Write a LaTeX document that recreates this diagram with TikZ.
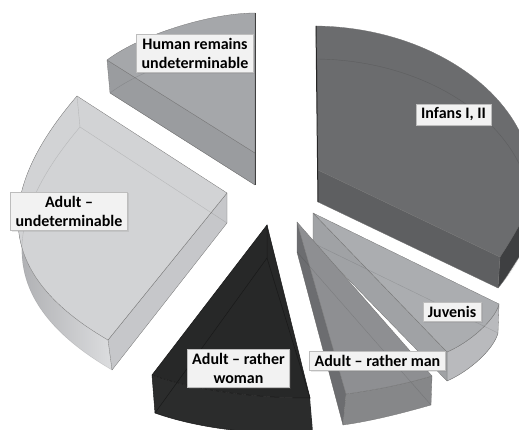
\documentclass[tikz,border=0pt]{standalone}
\usepackage{fontspec}
\setmainfont{Carlito}
\usetikzlibrary{shadows}
\definecolor{boxfill}{HTML}{F2F2F2}
\definecolor{boxline}{HTML}{BDBDBD}
\definecolor{inftop}{HTML}{6B6C6E}
\definecolor{infside}{HTML}{5E5F61}
\definecolor{infrim}{HTML}{3E3F41}
\definecolor{humtop}{HTML}{A5A7AA}
\definecolor{humside}{HTML}{9A9C9F}
\definecolor{undtop}{HTML}{D2D3D5}
\definecolor{undside}{HTML}{C6C7CA}
\definecolor{undrimdark}{HTML}{A2A3A6}
\definecolor{undrimlight}{HTML}{DCDDDF}
\definecolor{womtop}{HTML}{272828}
\definecolor{womrim}{HTML}{2B2C2C}
\definecolor{juvtop}{HTML}{ABADB0}
\definecolor{juvside}{HTML}{A0A2A5}
\definecolor{juvrim}{HTML}{B9BABD}
\definecolor{mantop}{HTML}{8E8F92}
\definecolor{manside}{HTML}{6C6D70}
\definecolor{manrim}{HTML}{868789}
\tikzset{
    lbox/.style = {rectangle, draw=boxline, fill=boxfill, line width=0.6pt, inner xsep=5pt, inner ysep=4pt, align=center, font=\fontsize{16}{19}\selectfont\bfseries, drop shadow={opacity=0.18, shadow xshift=1.5pt, shadow yshift=-1.5pt}},
    face/.style = {draw=black!55, line width=0.3pt, line join=round},
    faint/.style = {draw=black, draw opacity=0.13, line width=0.4pt},
    darkline/.style = {draw=black!90, line width=0.5pt}
}
\begin{document}
\begin{tikzpicture}[x=1pt, y=-1pt]
\useasboundingbox (0,0) rectangle (519,430);
\clip (0,0) rectangle (519,430);

\coordinate (hum-r) at (255,13);
\coordinate (hum-a) at (255,153);
\coordinate (hum-l) at (107,60);
\coordinate (hum-rb) at (255,46);
\coordinate (hum-ab) at (255,185);
\coordinate (hum-lb) at (110,93);
\fill [humside, face] (hum-l) -- (hum-a) -- (hum-ab) -- (hum-lb) -- cycle;
\fill [humtop, face] (hum-a) -- (hum-r) .. controls (210,13) and (140,35) .. (hum-l) -- cycle;
\path [faint] (hum-ab) -- (hum-rb) .. controls (210,46) and (143,68) .. (hum-lb) -- cycle;
\draw [black!75, line width=0.8pt] (hum-r) -- (hum-ab);

\coordinate (inf-u) at (316,26);
\coordinate (inf-a) at (318,170);
\coordinate (inf-l) at (500,257);
\coordinate (inf-e) at (521,222);
\coordinate (inf-ub) at (317,59);
\coordinate (inf-ab) at (318,202);
\coordinate (inf-lb) at (498,288);
\coordinate (inf-eb) at (521,254);
\fill [infside, face] (inf-a) -- (inf-l) -- (inf-lb) -- (inf-ab) -- cycle;
\fill [inftop, face] (inf-a) -- (inf-u) .. controls (475,28) and (590,155) .. (inf-l) -- cycle;
\fill [infrim, face] (inf-l) .. controls (506,248) and (514,235) .. (inf-e) -- (inf-eb) .. controls (512,268) and (505,280) .. (inf-lb) -- cycle;
\path [faint] (inf-ab) -- (inf-ub) .. controls (476,61) and (589,187) .. (inf-lb);
\draw [black!85, line width=1pt] (inf-u) -- (inf-ab);

\coordinate (und-t) at (77,96);
\coordinate (und-a) at (227,193);
\coordinate (und-l) at (108,340);
\coordinate (und-tb) at (80,127);
\coordinate (und-ab) at (227,223);
\coordinate (und-lb) at (112,370);
\shade [left color=undrimdark, right color=undrimlight] (und-t) .. controls (-8,195) and (-4,275) .. (und-l) -- (und-lb) .. controls (0,305) and (-4,226) .. (und-tb) -- cycle;
\fill [undside, face] (und-a) -- (und-l) -- (und-lb) -- (und-ab) -- cycle;
\fill [undtop, face] (und-a) -- (und-t) .. controls (-8,195) and (-4,275) .. (und-l) -- cycle;
\path [faint] (und-ab) -- (und-tb) .. controls (-4,226) and (0,305) .. (und-lb);
\path [faint] (und-t) -- (und-tb);

\coordinate (juv-a) at (313,213);
\coordinate (juv-u) at (499,304);
\coordinate (juv-l) at (447,352);
\coordinate (juv-ab) at (313,243);
\coordinate (juv-ub) at (498,333);
\coordinate (juv-lb) at (447,381);
\fill [juvrim, face] (juv-u) .. controls (495,320) and (470,342) .. (juv-l) -- (juv-lb) .. controls (470,371) and (494,349) .. (juv-ub) -- cycle;
\fill [juvside, face] (juv-a) -- (juv-l) -- (juv-lb) -- (juv-ab) -- cycle;
\fill [juvtop, face] (juv-a) -- (juv-u) .. controls (495,320) and (470,342) .. (juv-l) -- cycle;
\path [faint] (juv-ab) -- (juv-ub) .. controls (494,349) and (470,371) .. (juv-lb);

\coordinate (man-a) at (297,222);
\coordinate (man-l) at (346,394);
\coordinate (man-r) at (432,376);
\coordinate (man-ab) at (297,252);
\coordinate (man-lb) at (343,425);
\coordinate (man-rb) at (431,405);
\fill [manside, face] (man-a) -- (man-l) -- (man-lb) -- (man-ab) -- cycle;
\fill [manrim, face] (man-l) .. controls (375,390) and (405,384) .. (man-r) -- (man-rb) .. controls (403,413) and (372,421) .. (man-lb) -- cycle;
\fill [mantop, face] (man-a) -- (man-l) .. controls (375,390) and (405,384) .. (man-r) -- cycle;
\path [faint] (man-ab) -- (man-rb);
\path [faint] (man-ab) -- (man-lb);

\coordinate (wom-a) at (267,225);
\coordinate (wom-l) at (152,375);
\coordinate (wom-r) at (310,398);
\coordinate (wom-ab) at (267,258);
\coordinate (wom-lb) at (155,413);
\coordinate (wom-rb) at (313,433);
\fill [womrim] (wom-l) .. controls (200,392) and (260,398) .. (wom-r) -- (wom-rb) .. controls (263,435) and (203,430) .. (wom-lb) -- cycle;
\fill [womtop] (wom-a) -- (wom-l) .. controls (200,392) and (260,398) .. (wom-r) -- cycle;
\draw [darkline] (wom-a) -- (wom-l) .. controls (200,392) and (260,398) .. (wom-r) -- cycle;
\draw [darkline] (wom-a) -- (wom-ab) -- (wom-lb);
\draw [darkline] (wom-ab) -- (wom-r);
\draw [darkline] (wom-l) -- (wom-lb) .. controls (203,430) and (263,435) .. (wom-rb);

\node (human) [lbox] at (195,53.5) {Human remains\\undeterminable};
\node (infans) [lbox] at (453.5,114.5) {Infans I, II};
\node (undet) [lbox] at (69,211) {Adult –\\undeterminable};
\node (juvenis) [lbox] at (452,311.5) {Juvenis};
\node (man) [lbox] at (377.5,361) {Adult – rather man};
\node (woman) [lbox] at (238.5,368) {Adult – rather\\woman};
\end{tikzpicture}
\end{document}
